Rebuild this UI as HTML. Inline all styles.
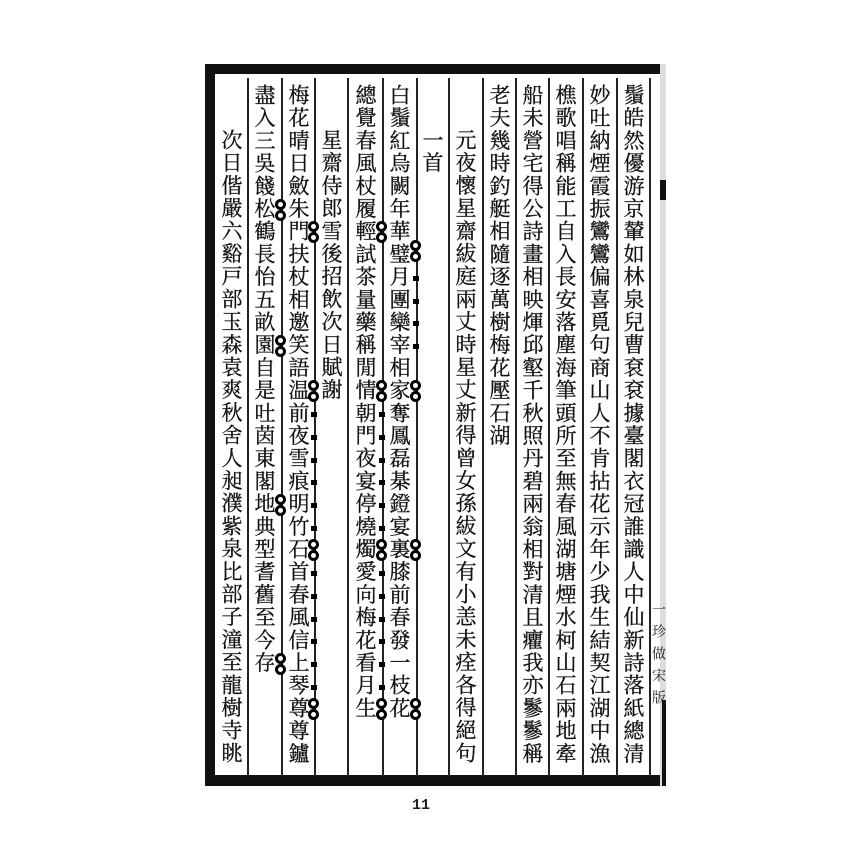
<!DOCTYPE html>
<html><head><meta charset="utf-8"><style>
html,body{margin:0;padding:0;background:#fff;}
body{width:850px;height:850px;position:relative;overflow:hidden;}
.b{position:absolute;background:#111;}
.l{position:absolute;background:#222;width:1.5px;top:78px;height:698px;}
.c{position:absolute;top:84px;width:30px;writing-mode:vertical-rl;font-family:"Liberation Serif","Noto Serif CJK SC","Noto Sans CJK TC",serif;font-size:21px;letter-spacing:1.7px;line-height:30px;color:#111;-webkit-text-stroke:0.3px #111;}
.s{position:absolute;left:650px;top:602px;width:15px;writing-mode:vertical-rl;font-family:"Liberation Serif","Noto Serif CJK SC",serif;font-size:14px;letter-spacing:8px;line-height:15px;color:#222;}
.n{position:absolute;left:412px;top:797px;font-family:"Liberation Mono",monospace;font-size:15px;font-weight:bold;color:#222;}
.d{position:absolute;width:5px;height:5px;border:3px solid #000;border-radius:50%;background:#fff;}
.m{position:absolute;width:6px;height:5px;background:#000;}
</style></head><body>
<div class="b" style="left:205px;top:64px;width:461px;height:10px"></div>
<div class="b" style="left:205px;top:64px;width:10px;height:722px"></div>
<div class="b" style="left:205px;top:775px;width:461px;height:11px"></div>
<div class="b" style="left:660px;top:64px;width:6px;height:722px;background:#ddd"></div>
<div class="b" style="left:660px;top:180px;width:6px;height:20px"></div>
<div class="b" style="left:662px;top:700px;width:4px;height:86px"></div>
<div class="l" style="left:247px"></div>
<div class="l" style="left:281px"></div>
<div class="l" style="left:314px"></div>
<div class="l" style="left:347px"></div>
<div class="l" style="left:382px"></div>
<div class="l" style="left:416px"></div>
<div class="l" style="left:448px"></div>
<div class="l" style="left:482px"></div>
<div class="l" style="left:515px"></div>
<div class="l" style="left:548px"></div>
<div class="l" style="left:582px"></div>
<div class="l" style="left:616px"></div>
<div class="l" style="left:649px"></div>

<div class="c" style="left:618px">鬚皓然優游京輦如林泉兒曹袞袞據臺閣衣冠誰識人中仙新詩落紙總清</div>
<div class="c" style="left:584px">妙吐納煙霞振鸞鸞偏喜覓句商山人不肯拈花示年少我生結契江湖中漁</div>
<div class="c" style="left:550px">樵歌唱稱能工自入長安落塵海筆頭所至無春風湖塘煙水柯山石兩地牽</div>
<div class="c" style="left:517px">船未營宅得公詩畫相映煇邱壑千秋照丹碧兩翁相對清且癯我亦鬖鬖稱</div>
<div class="c" style="left:484px">老夫幾時釣艇相隨逐萬樹梅花壓石湖</div>
<div class="c" style="left:450px;top:129px">元夜懷星齋紱庭兩丈時星丈新得曾女孫紱文有小恙未痊各得絕句</div>
<div class="c" style="left:417px;top:129px">一首</div>
<div class="c" style="left:384px">白鬚紅烏闕年華璧月團欒宰相家奪鳳磊棊鐙宴裏膝前春發一枝花</div>
<div class="c" style="left:350px">總覺春風杖履輕試茶量藥稱閒情朝門夜宴停燒燭愛向梅花看月生</div>
<div class="c" style="left:316px;top:129px">星齋侍郎雪後招飲次日賦謝</div>
<div class="c" style="left:283px">梅花晴日斂朱門扶杖相邀笑語温前夜雪痕明竹石首春風信上琴尊尊鑪</div>
<div class="c" style="left:249px">盡入三吳餞松鶴長怡五畝園自是吐茵東閣地典型耆舊至今存</div>
<div class="c" style="left:216px;top:129px">次日偕嚴六谿戸部玉森袁爽秋舍人昶濮紫泉比部子潼至龍樹寺眺</div>

<!-- 盡入 col marks (line 281) -->
<div class="d" style="left:275px;top:199px"></div><div class="d" style="left:275px;top:210px"></div>
<div class="d" style="left:275px;top:335px"></div><div class="d" style="left:275px;top:346px"></div>
<div class="d" style="left:275px;top:494px"></div><div class="d" style="left:275px;top:505px"></div>
<div class="d" style="left:275px;top:653px"></div><div class="d" style="left:275px;top:664px"></div>
<!-- 梅花 col marks (line 314) -->
<div class="d" style="left:308px;top:221px"></div><div class="d" style="left:308px;top:232px"></div>
<div class="d" style="left:308px;top:380px"></div><div class="d" style="left:308px;top:391px"></div>
<div class="d" style="left:308px;top:539px"></div><div class="d" style="left:308px;top:550px"></div>
<div class="d" style="left:308px;top:698px"></div><div class="d" style="left:308px;top:709px"></div>
<div class="m" style="left:311px;top:412px"></div><div class="m" style="left:311px;top:435px"></div>
<div class="m" style="left:311px;top:458px"></div><div class="m" style="left:311px;top:480px"></div>
<div class="m" style="left:311px;top:503px"></div><div class="m" style="left:311px;top:526px"></div>
<div class="m" style="left:311px;top:571px"></div><div class="m" style="left:311px;top:594px"></div>
<div class="m" style="left:311px;top:617px"></div><div class="m" style="left:311px;top:639px"></div>
<div class="m" style="left:311px;top:662px"></div><div class="m" style="left:311px;top:685px"></div>
<!-- 總覺 col marks (line 382) -->
<div class="d" style="left:376px;top:221px"></div><div class="d" style="left:376px;top:232px"></div>
<div class="d" style="left:376px;top:380px"></div><div class="d" style="left:376px;top:391px"></div>
<div class="d" style="left:376px;top:539px"></div><div class="d" style="left:376px;top:550px"></div>
<div class="d" style="left:376px;top:698px"></div><div class="d" style="left:376px;top:709px"></div>
<div class="m" style="left:379px;top:412px"></div><div class="m" style="left:379px;top:435px"></div>
<div class="m" style="left:379px;top:458px"></div><div class="m" style="left:379px;top:480px"></div>
<div class="m" style="left:379px;top:503px"></div><div class="m" style="left:379px;top:526px"></div>
<div class="m" style="left:379px;top:571px"></div><div class="m" style="left:379px;top:594px"></div>
<div class="m" style="left:379px;top:617px"></div><div class="m" style="left:379px;top:639px"></div>
<div class="m" style="left:379px;top:662px"></div><div class="m" style="left:379px;top:685px"></div>
<!-- 白鬚 col marks (line 416) -->
<div class="d" style="left:410px;top:240px"></div><div class="d" style="left:410px;top:251px"></div>
<div class="d" style="left:410px;top:380px"></div><div class="d" style="left:410px;top:391px"></div>
<div class="d" style="left:410px;top:539px"></div><div class="d" style="left:410px;top:550px"></div>
<div class="d" style="left:410px;top:698px"></div><div class="d" style="left:410px;top:709px"></div>
<div class="m" style="left:413px;top:276px"></div><div class="m" style="left:413px;top:299px"></div>
<div class="m" style="left:413px;top:321px"></div><div class="m" style="left:413px;top:344px"></div>

<div class="s">一珍做宋版</div>
<div class="n">11</div>
</body></html>
